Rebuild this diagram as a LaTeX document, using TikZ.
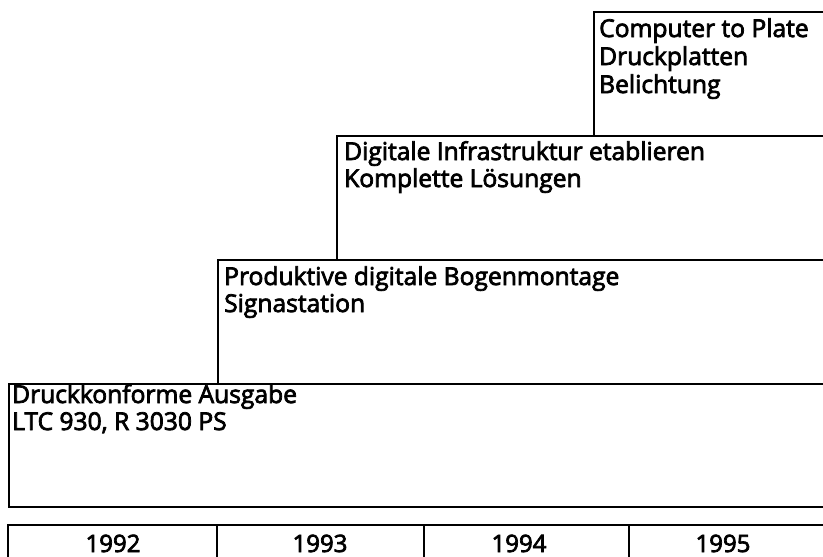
\documentclass[tikz,border=0pt]{standalone}
\usepackage{fontspec}
\setmainfont{Open Sans}[FakeBold=3]
\begin{document}
\begin{tikzpicture}[x=1pt,y=-1pt,
  stage/.style={draw=black,line width=2.2pt,rectangle,anchor=north west,inner sep=0pt},
  lbl/.style={anchor=base west,inner sep=0pt,font=\fontsize{24.6}{27}\selectfont},
  yr/.style={anchor=base,inner sep=0pt,font=\fontsize{24}{27}\selectfont},
  line/.style={draw=black,line width=2.2pt}]
\useasboundingbox (0,0) rectangle (823,557);
\clip (0,0) rectangle (823,557);
% stages (right side runs off the page)
\node[stage,minimum width=260pt,minimum height=124pt] (s4) at (593,11) {};
\node[stage,minimum width=520pt,minimum height=124pt] (s3) at (336,135) {};
\node[stage,minimum width=640pt,minimum height=124pt] (s2) at (217,259) {};
\node[stage,minimum width=840pt,minimum height=123pt] (s1) at (8,383) {};
% texts
\node[lbl] (t4a) at (599,37) {Computer to Plate};
\node[lbl] (t4b) at (599,65) {Druckplatten};
\node[lbl] (t4c) at (599,93) {Belichtung};
\node[lbl] (t3a) at (344,160) {Digitale Infrastruktur etablieren};
\node[lbl] (t3b) at (344,187) {Komplette Lösungen};
\node[lbl] (t2a) at (224,285) {Produktive digitale Bogenmontage};
\node[lbl] (t2b) at (224,312) {Signastation};
\node[lbl] (t1a) at (12,403) {Druckkonforme Ausgabe};
\node[lbl] (t1b) at (12,430) {LTC 930, R 3030 PS};
% year row
\coordinate (ya) at (8,525);
\coordinate (yb) at (840,525);
\coordinate (y0) at (8,570);
\coordinate (d1t) at (217,525);
\coordinate (d1b) at (217,570);
\coordinate (d2t) at (424,525);
\coordinate (d2b) at (424,570);
\coordinate (d3t) at (629,525);
\coordinate (d3b) at (629,570);
\draw[line] (yb) -- (ya) -- (y0);
\draw[line] (d1t) -- (d1b);
\draw[line] (d2t) -- (d2b);
\draw[line] (d3t) -- (d3b);
\node[yr] (y92) at (113,552) {1992};
\node[yr] (y93) at (320,552) {1993};
\node[yr] (y94) at (519,552) {1994};
\node[yr] (y95) at (723,552) {1995};
\end{tikzpicture}
\end{document}
